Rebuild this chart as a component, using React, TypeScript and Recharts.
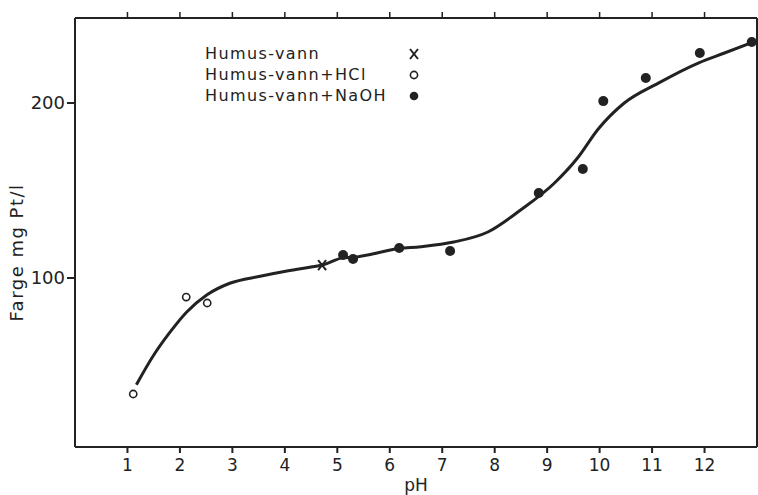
import React from "react";
import { ComposedChart, Line, Scatter, XAxis, YAxis } from "recharts";

// pH ticks on the x axis, colour ticks on the y axis
const phTicks = [1, 2, 3, 4, 5, 6, 7, 8, 9, 10, 11, 12];
const colourTicks = [100, 200];

// measured points: [pH, colour mg Pt/l]
const humusVann = [[4.71, 107.4]];
const humusHcl = [
  [1.11, 33.7],
  [2.12, 89.1],
  [2.52, 85.7],
];
const humusNaoh = [
  [5.11, 113.1],
  [5.3, 110.9],
  [6.18, 117.1],
  [7.15, 115.4],
  [8.84, 148.6],
  [9.68, 162.3],
  [10.07, 201.1],
  [10.88, 214.3],
  [11.91, 228.6],
  [12.9, 234.9],
];

// hand-drawn fitted curve
const curvePh = [
  1.17, 1.48, 1.8, 2.13, 2.51, 2.95, 3.53, 4.04, 4.62, 4.71, 5.11, 5.3, 6.18,
  6.59, 7.22, 7.87, 8.5, 9.13, 9.59, 9.97, 10.47, 11.12, 11.89, 12.38, 12.9,
];
const curveColour = [
  39, 55, 68.6, 80.6, 90.3, 97, 101, 104, 106.9, 107.4, 111.5, 111.8, 116.8,
  117.9, 120.6, 126.3, 139, 154, 169, 185, 200, 211.4, 223, 228.6, 234.5,
];

const toPts = (rows: number[][]) => rows.map(([x, y]) => ({ x, y }));
const curve = curvePh.map((x, i) => ({ x, y: curveColour[i] }));

const INK = "#222";
const FONT = "'DejaVu Sans', sans-serif";

const Cross = ({ cx, cy }: any) => (
  <g stroke={INK} strokeWidth={2}>
    <line x1={cx - 4} y1={cy - 5} x2={cx + 4} y2={cy + 5} />
    <line x1={cx - 4} y1={cy + 5} x2={cx + 4} y2={cy - 5} />
  </g>
);
const Ring = ({ cx, cy }: any) => (
  <circle cx={cx} cy={cy} r={3.6} fill="#fff" stroke={INK} strokeWidth={1.6} />
);
const Dot = ({ cx, cy }: any) => <circle cx={cx} cy={cy} r={5} fill={INK} />;
// top frame: short upward marks at each pH, no labels
const TopTick = ({ x }: any) => (
  <line x1={x} x2={x} y1={18} y2={12} stroke={INK} strokeWidth={1.5} />
);

const legendRows = [
  { label: "Humus-vann", mark: "x" },
  { label: "Humus-vann+HCl", mark: "o" },
  { label: "Humus-vann+NaOH", mark: "dot" },
];

const LegendBox = () => (
  <div
    style={{
      position: "absolute",
      left: 205,
      top: 43,
      width: 230,
      fontFamily: FONT,
      fontSize: 16,
      color: INK,
      letterSpacing: 1.4,
    }}
  >
    {legendRows.map((r) => (
      <div key={r.label} style={{ position: "relative", height: 21, lineHeight: "21px" }}>
        <span>{r.label}</span>
        <svg width={14} height={14} style={{ position: "absolute", left: 202, top: 4 }}>
          {r.mark === "x" && (
            <g stroke={INK} strokeWidth={2}>
              <line x1={3} y1={2} x2={11} y2={12} />
              <line x1={3} y1={12} x2={11} y2={2} />
            </g>
          )}
          {r.mark === "o" && (
            <circle cx={7} cy={7} r={3.6} fill="none" stroke={INK} strokeWidth={1.6} />
          )}
          {r.mark === "dot" && <circle cx={7} cy={7} r={4.3} fill={INK} />}
        </svg>
      </div>
    ))}
  </div>
);

export default function App() {
  return (
    <div style={{ position: "absolute", left: 0, top: 0, width: 758, height: 495, background: "#fff" }}>
      <ComposedChart
        width={758}
        height={495}
        margin={{ top: 17, right: 0, bottom: 0, left: 0 }}
      >
        <XAxis
          xAxisId="top"
          orientation="top"
          type="number"
          dataKey="x"
          domain={[0, 13]}
          ticks={phTicks}
          interval={0}
          tick={<TopTick />}
          tickLine={false}
          tickSize={0}
          height={1}
          stroke={INK}
          strokeWidth={2}
        />
        <XAxis
          type="number"
          dataKey="x"
          domain={[0, 13]}
          ticks={phTicks}
          interval={0}
          height={48}
          tickSize={6}
          tickMargin={6}
          stroke={INK}
          strokeWidth={2}
          tick={{ fill: INK, fontSize: 17, fontFamily: FONT }}
          label={{
            value: "pH",
            position: "insideBottom",
            offset: 4,
            fill: INK,
            fontSize: 17,
            fontFamily: FONT,
          }}
        />
        <YAxis
          type="number"
          dataKey="y"
          domain={[3.4, 248.6]}
          ticks={colourTicks}
          width={75}
          tickSize={8}
          tickMargin={2}
          stroke={INK}
          strokeWidth={2}
          tick={{ fill: INK, fontSize: 18, fontFamily: FONT }}
          label={{
            value: "Farge mg Pt/l",
            angle: -90,
            position: "insideLeft",
            offset: 17,
            dy: 20,
            fill: INK,
            fontSize: 18,
            fontFamily: FONT,
            style: { textAnchor: "middle", letterSpacing: 1.5 },
          }}
        />
        <YAxis
          yAxisId="right"
          orientation="right"
          type="number"
          dataKey="y"
          domain={[3.4, 248.6]}
          ticks={colourTicks}
          tick={false}
          tickLine={false}
          width={1}
          stroke={INK}
          strokeWidth={2}
        />
        <Line
          data={curve}
          dataKey="y"
          xAxisId="top"
          yAxisId="right"
          type="monotone"
          stroke={INK}
          strokeWidth={3}
          dot={false}
          activeDot={false}
          isAnimationActive={false}
        />
        <Scatter data={toPts(humusVann)} dataKey="y" shape={<Cross />} isAnimationActive={false} />
        <Scatter data={toPts(humusHcl)} dataKey="y" shape={<Ring />} isAnimationActive={false} />
        <Scatter data={toPts(humusNaoh)} dataKey="y" shape={<Dot />} isAnimationActive={false} />
      </ComposedChart>
      <LegendBox />
    </div>
  );
}
